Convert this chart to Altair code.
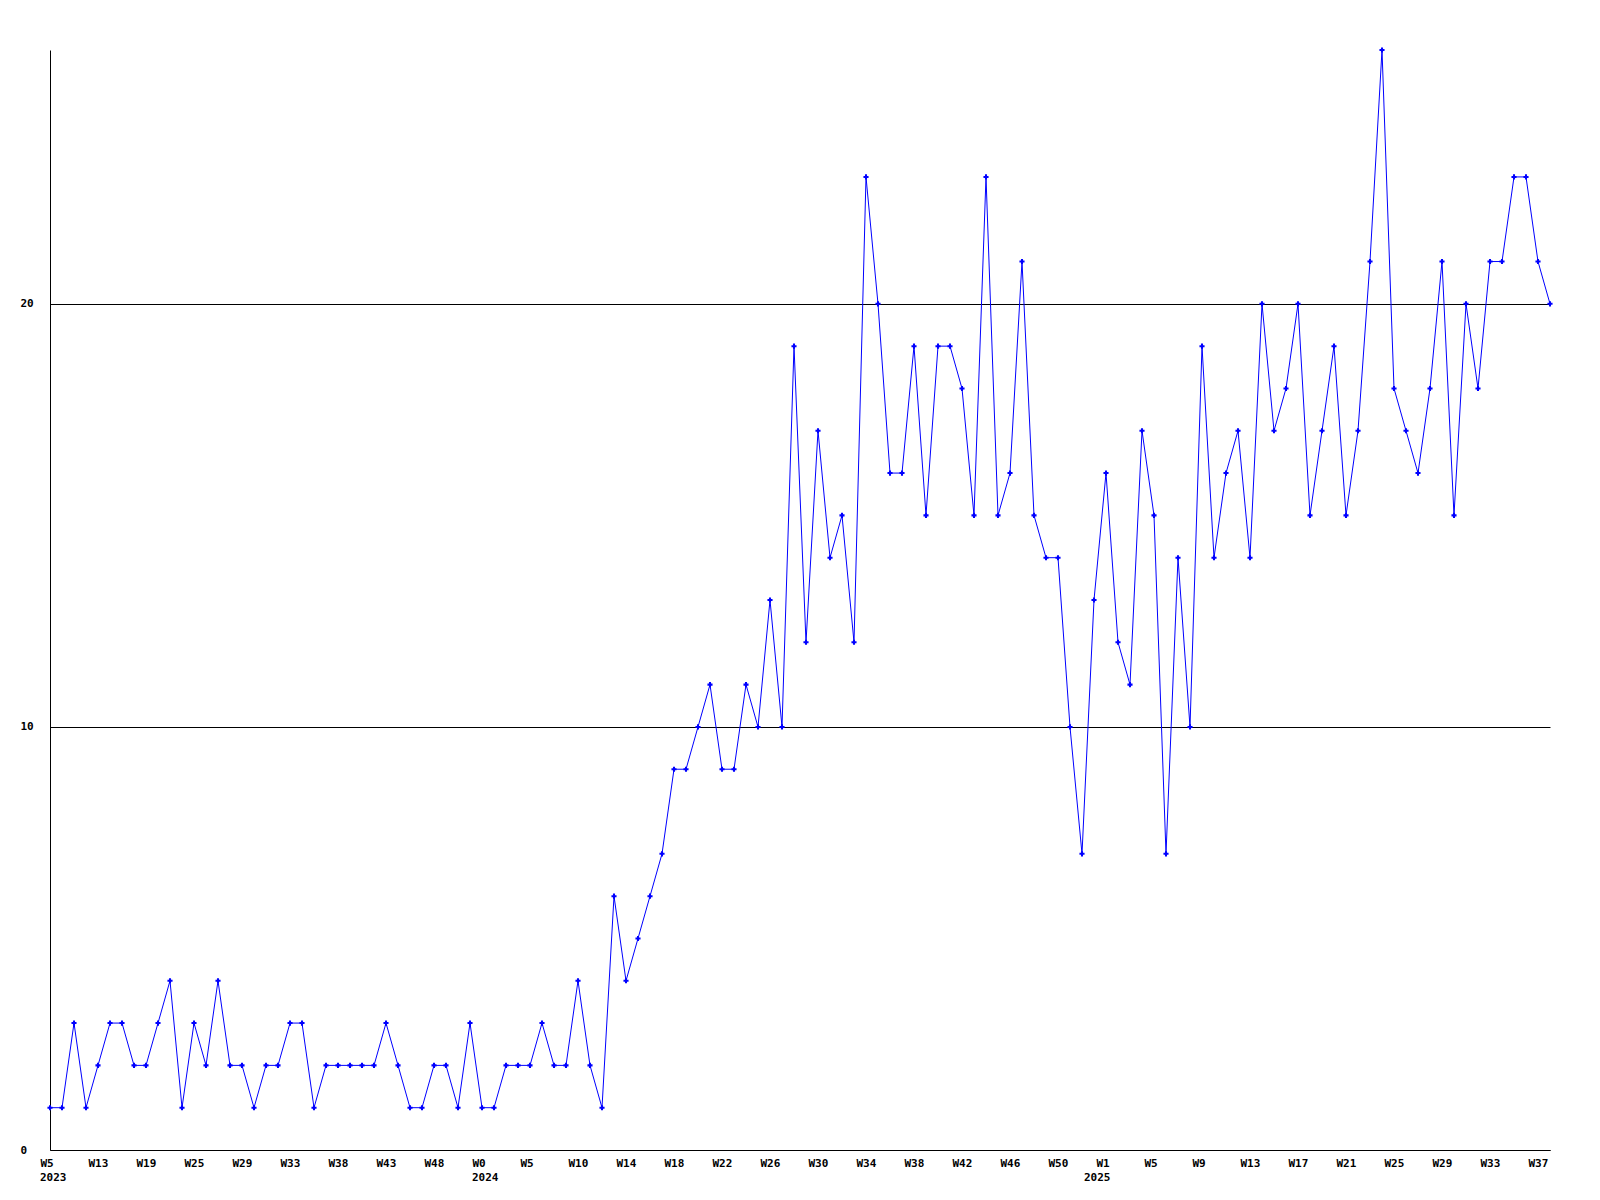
import altair as alt
import pandas as pd

# Weekly counts, one value per point (left to right)
values = [1, 1, 3, 1, 2, 3, 3, 2, 2, 3,
          4, 1, 3, 2, 4, 2, 2, 1, 2, 2,
          3, 3, 1, 2, 2, 2, 2, 2, 3, 2,
          1, 1, 2, 2, 1, 3, 1, 1, 2, 2,
          2, 3, 2, 2, 4, 2, 1, 6, 4, 5,
          6, 7, 9, 9, 10, 11, 9, 9, 11, 10,
          13, 10, 19, 12, 17, 14, 15, 12, 23, 20,
          16, 16, 19, 15, 19, 19, 18, 15, 23, 15,
          16, 21, 15, 14, 14, 10, 7, 13, 16, 12,
          11, 17, 15, 7, 14, 10, 19, 14, 16, 17,
          14, 20, 17, 18, 20, 15, 17, 19, 15, 17,
          21, 26, 18, 17, 16, 18, 21, 15, 20, 18,
          21, 21, 23, 23, 21, 20]

week_labels = ["W5", "W13", "W19", "W25", "W29", "W33", "W38", "W43", "W48",
               "W0", "W5", "W10", "W14", "W18", "W22", "W26", "W30", "W34",
               "W38", "W42", "W46", "W50", "W1", "W5", "W9", "W13", "W17",
               "W21", "W25", "W29", "W33", "W37"]
week_tick_positions = [0, 4, 8, 12, 16, 20, 24, 28, 32, 36, 40, 44, 48, 52, 56, 60,
                       64, 68, 72, 76, 80, 84, 88, 92, 96, 100, 104, 108, 112, 116,
                       120, 124]
year_labels = ["2023", "2024", "2025"]
year_positions = [0, 36, 87]
y_ticks = [0, 10, 20]

FONT = "DejaVu Sans Mono"
BLUE = "#0000FF"

df = pd.DataFrame({"idx": list(range(len(values))), "value": values})
years = pd.DataFrame({"idx": year_positions, "label": year_labels})

label_expr = "[" + ",".join("'" + w + "'" for w in week_labels) + "][round(datum.value / 4)]"

x_scale = alt.Scale(domain=[0, len(values) - 1], nice=False, zero=False)
y_scale = alt.Scale(domain=[0, 26], nice=False)

x_axis = alt.Axis(
    values=week_tick_positions, labelExpr=label_expr, title=None, grid=False,
    ticks=False, tickSize=0, labelAlign="left", labelOffset=-10, labelBaseline="top",
    labelPadding=7, labelFlush=False, labelOverlap=False, labelFont=FONT,
    labelFontWeight="bold", labelFontSize=11, labelColor="black",
    domainColor="black", domainWidth=1,
)
y_axis = alt.Axis(
    values=y_ticks, title=None, grid=True, gridColor="black", gridOpacity=1,
    gridWidth=1, ticks=False, tickSize=0, labelAlign="left", labelPadding=30,
    labelBaseline="middle", labelFont=FONT, labelFontWeight="bold",
    labelFontSize=11, labelColor="black", domainColor="black", domainWidth=1,
    labelFlush=False,
)

base = alt.Chart(df)
line = base.mark_line(color=BLUE, strokeWidth=1).encode(
    x=alt.X("idx:Q", scale=x_scale, axis=x_axis),
    y=alt.Y("value:Q", scale=y_scale, axis=y_axis),
)
pts = base.mark_point(shape="cross", filled=True, size=26, color=BLUE, opacity=1).encode(
    x=alt.X("idx:Q", scale=x_scale),
    y=alt.Y("value:Q", scale=y_scale),
)
year_text = alt.Chart(years).mark_text(
    align="left", baseline="top", dx=-10, font=FONT, fontWeight="bold",
    fontSize=11, color="black",
).encode(
    x=alt.X("idx:Q", scale=x_scale),
    y=alt.value(1122),
    text="label:N",
)

chart = alt.layer(line, pts, year_text).properties(
    width=1500, height=1100,
    autosize=alt.AutoSizeParams(type="none"),
    padding={"left": 42, "top": 42, "right": 42, "bottom": 42},
).configure(background="white", view=alt.ViewConfig(stroke=None))

chart.save("out.html", embed_options={"renderer": "svg", "actions": False})
